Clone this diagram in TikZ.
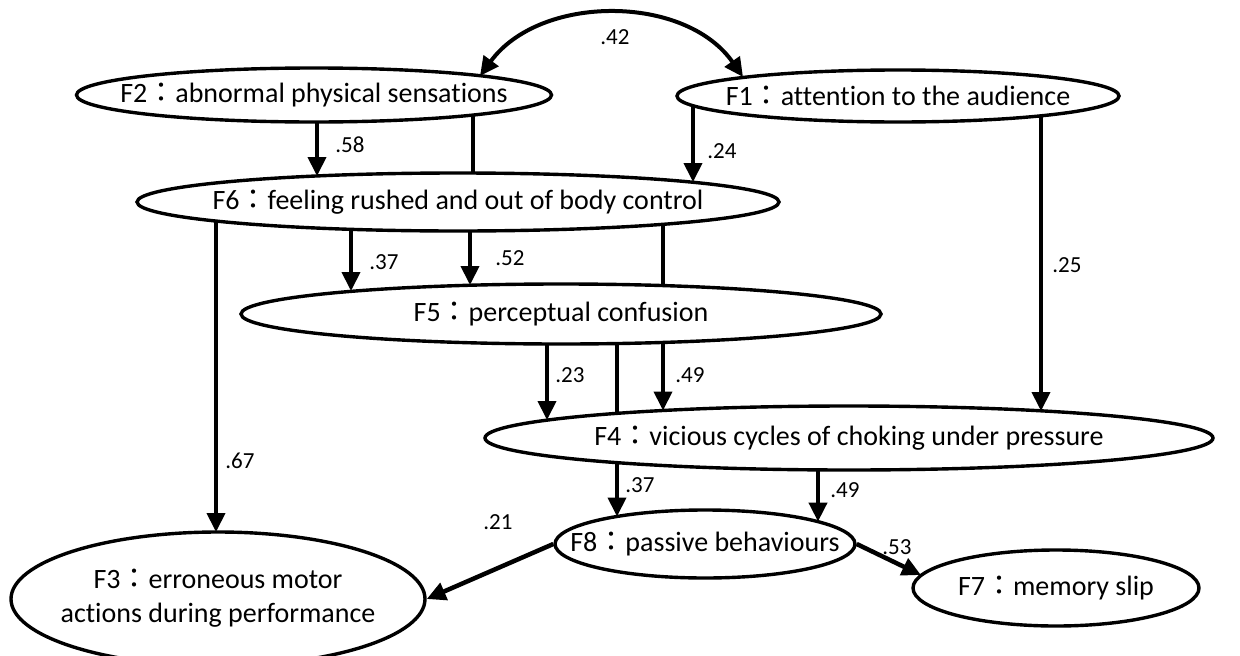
\documentclass[tikz,border=0pt]{standalone}
\usepackage{fontspec}
\setmainfont{Carlito}[Ligatures=NoCommon]
\newfontfamily\cjk{Noto Sans CJK TC}
\usetikzlibrary{arrows.meta,calc,shapes.geometric}
\newcommand\fc{{\cjk ：}}
\begin{document}
\begin{tikzpicture}[x=1pt,y=-1pt,
  ell/.style={ellipse,draw,line width=3.4pt,fill=white,inner sep=0pt,font=\fontsize{28}{34}\selectfont},
  arr/.style={line width=4pt,-{Triangle[length=19pt,width=18pt]}},
  ln/.style={line width=4pt},
  lab/.style={font=\fontsize{23}{27}\selectfont,inner sep=0pt}]
\useasboundingbox (0,0) rectangle (1240,656);
\node[ell,minimum width=475,minimum height=54] (F2) at (314,95) {\makebox[0pt]{F2\fc abnormal physical sensations}};
\node[ell,minimum width=442,minimum height=52] (F1) at (898,96) {\makebox[0pt]{F1\fc attention to the audience}};
\node[ell,minimum width=642,minimum height=58] (F6) at (458,202) {\makebox[0pt]{F6\fc feeling rushed and out of body control}};
\node[ell,minimum width=640,minimum height=60] (F5) at (561,314) {\makebox[0pt]{F5\fc perceptual confusion}};
\node[ell,minimum width=728,minimum height=64] (F4) at (849,438) {\makebox[0pt]{F4\fc vicious cycles of choking under pressure}};
\node[ell,minimum width=300,minimum height=68] (F8) at (705,544) {\makebox[0pt]{F8\fc passive behaviours}};
\node[ell,minimum width=414,minimum height=134] (F3) at (218,599) {\makebox[0pt]{\begin{tabular}{@{}c@{}}F3\fc erroneous motor\\actions during performance\end{tabular}}};
\node[ell,minimum width=286,minimum height=76] (F7) at (1056,588) {\makebox[0pt]{F7\fc memory slip}};

\draw[line width=4pt,{Triangle[length=19pt,width=18pt]}-{Triangle[length=19pt,width=18pt]}] ($(F2)+(166,-19)$) .. controls (540,-6) and (685,-6) .. ($(F1)+(-155,-19)$);
\draw[arr] ($(F2)+(3,27)$) -- ($(F6)+(-141,-26)$);
\draw[ln] ($(F2)+(159,20)$) -- ($(F6)+(15,-29)$);
\draw[arr] ($(F1)+(-205,10)$) -- ($(F6)+(235,-20)$);
\draw[arr] ($(F1)+(143,20)$) -- ($(F4)+(192,-27)$);
\draw[arr] ($(F6)+(-107,27)$) -- ($(F5)+(-210,-23)$);
\draw[arr] ($(F6)+(12,29)$) -- ($(F5)+(-91,-29)$);
\draw[ln] ($(F6)+(205,22)$) -- ($(F5)+(102,-28)$);
\draw[arr] ($(F6)+(-242,19)$) -- ($(F3)+(-2,-67)$);
\draw[arr] ($(F5)+(-14,30)$) -- ($(F4)+(-302,-18)$);
\draw[ln] ($(F5)+(56,30)$) -- ($(F4)+(-232,-25)$);
\draw[arr] ($(F5)+(102,28)$) -- ($(F4)+(-186,-27.5)$);
\draw[arr] ($(F4)+(-232,25)$) -- ($(F8)+(-88,-27.5)$);
\draw[arr] ($(F4)+(-31,32)$) -- ($(F8)+(113,-22.4)$);
\draw[arr,line width=4.5pt] (F8.west) -- (F3.east);
\draw[arr,line width=4.5pt] (F8.east) -- ($(F7)+(-135,-13)$);

\node[lab] (l42) at (615,37) {.42};
\node[lab] (l58) at (350,145) {.58};
\node[lab] (l24) at (722,151) {.24};
\node[lab] (l25) at (1067,265) {.25};
\node[lab] (l37a) at (384,262) {.37};
\node[lab] (l52) at (510,258) {.52};
\node[lab] (l67) at (240,461) {.67};
\node[lab] (l23) at (570,375) {.23};
\node[lab] (l49a) at (690,375) {.49};
\node[lab] (l37b) at (640,485) {.37};
\node[lab] (l49b) at (845,490) {.49};
\node[lab] (l21) at (498,522) {.21};
\node[lab] (l53) at (897,547) {.53};
\end{tikzpicture}
\end{document}
